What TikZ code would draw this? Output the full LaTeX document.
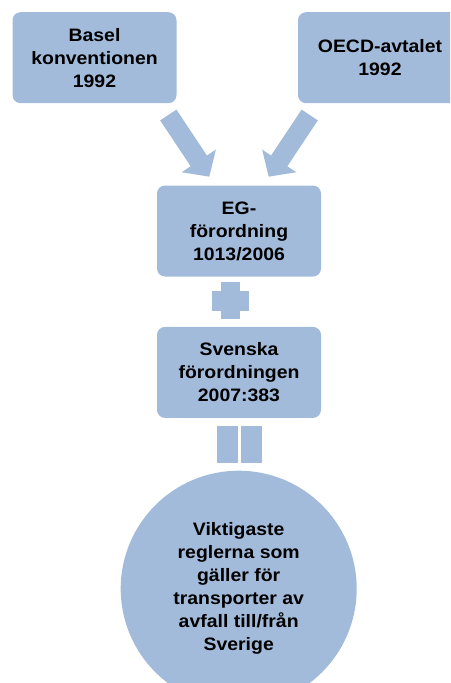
\documentclass[tikz,border=0pt]{standalone}
\usepackage{fontspec}
\setmainfont[FakeStretch=1.08]{Liberation Sans}
\usetikzlibrary{positioning}
\usetikzlibrary{arrows.meta}
\definecolor{smartblue}{RGB}{163,187,219}

\begin{document}
\begin{tikzpicture}[
        x = 1pt, y = -1pt,
        box/.style = {
                fill = smartblue,
                rounded corners = 8pt,
                minimum width = 164pt,
                minimum height = 91pt,
                inner sep = 0pt,
                align = center,
                font = \bfseries\fontsize{18}{23}\selectfont
            },
        goal/.style = {
                fill = smartblue,
                circle,
                minimum size = 236pt,
                inner sep = 0pt,
                align = center,
                font = \bfseries\fontsize{18}{23}\selectfont
            },
        blockarrow/.style = {
                draw = smartblue,
                line width = 19.5pt,
                -{Triangle[width = 40pt, length = 19pt]}
            },
        node distance = {50pt}
    ]
    \useasboundingbox (0,0) rectangle (450,683);
    \clip (0,0) rectangle (450,683);

    \node[box] (basel) at (94.5,57.7) {Basel\\konventionen\\1992};
    \node[box] (oecd) at (380,57.7) {OECD-avtalet\\1992};
    \node[box] (eg) at (239,231) {EG-\\förordning\\1013/2006};
    \node[box, below = of eg] (sv) {Svenska\\förordningen\\2007:383};
    \node[goal] (rules) at (238.7,588.7) {Viktigaste\\reglerna som\\gäller för\\transporter av\\avfall till/från\\Sverige};

    \coordinate (ltail) at (168.3,115);
    \coordinate (ltip) at (209.3,176.7);
    \coordinate (rtail) at (309.7,115);
    \coordinate (rtip) at (268.7,176.7);

    \draw[blockarrow] (ltail) -- (ltip);
    \draw[blockarrow] (rtail) -- (rtip);

    % plus
    \fill[smartblue] (220.5,282) rectangle (240,319);
    \fill[smartblue] (211.5,291) rectangle (248.5,311);

    % equals
    \fill[smartblue] (216.5,426) rectangle (237.5,463);
    \fill[smartblue] (241,426) rectangle (262,463);

\end{tikzpicture}
\end{document}
